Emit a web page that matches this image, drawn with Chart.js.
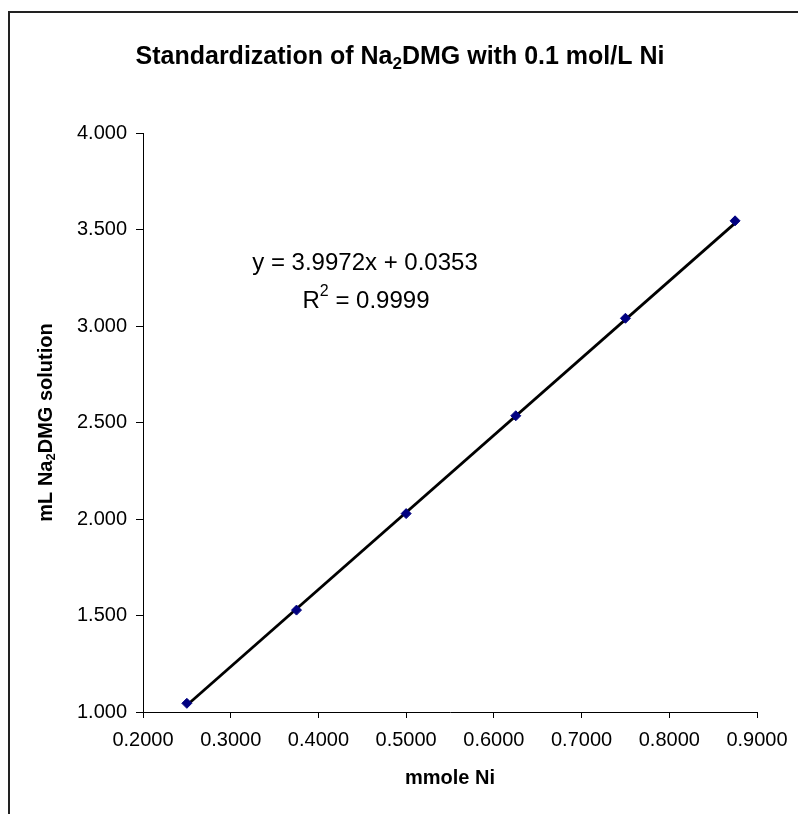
<!DOCTYPE html>
<html>
<head>
<meta charset="utf-8">
<script src="https://cdn.jsdelivr.net/npm/chart.js@4/dist/chart.umd.min.js"></script>
<style>
html,body{margin:0;padding:0;background:#fff;}
#wrap{width:798px;height:814px;position:relative;}
</style>
</head>
<body>
<div id="wrap"><canvas id="c" width="798" height="814"></canvas></div>
<script>
// Data
const mmoleNi = [0.25, 0.375, 0.5, 0.625, 0.75, 0.875];
const mLSolution = [1.045, 1.528, 2.028, 2.535, 3.040, 3.545];
// Trendline endpoints (Excel linear fit shown on chart)
const trendX = [0.25, 0.875];
const trendY = [1.0346, 3.5329];
const xTicks = [0.2, 0.3, 0.4, 0.5, 0.6, 0.7, 0.8, 0.9];
const yTicks = [1.0, 1.5, 2.0, 2.5, 3.0, 3.5, 4.0];
const titleParts = ["Standardization of Na", "2", "DMG with 0.1 mol/L Ni"];
const yTitleParts = ["mL Na", "2", "DMG solution"];
const xTitle = "mmole Ni";
const eqLine1 = "y = 3.9972x + 0.0353";
const eqLine2 = ["R", "2", " = 0.9999"];

const FONT = "'Liberation Sans', Arial, sans-serif";

function drawParts(ctx, parts, cx, cy, size, bold, mode) {
  const w = bold ? 'bold ' : '';
  const big = w + size + 'px ' + FONT;
  const small = w + Math.round(size * 0.66) + 'px ' + FONT;
  let total = 0;
  const widths = parts.map((p, i) => {
    ctx.font = (i % 2 === 1) ? small : big;
    const m = ctx.measureText(p).width;
    total += m;
    return m;
  });
  let x = cx - total / 2;
  ctx.textBaseline = 'middle';
  ctx.textAlign = 'left';
  parts.forEach((p, i) => {
    const isScript = i % 2 === 1;
    ctx.font = isScript ? small : big;
    let dy = 0;
    if (isScript) dy = (mode === 'sup') ? -size * 0.38 : size * 0.28;
    ctx.fillText(p, x, cy + dy);
    x += widths[i];
  });
}

const decor = {
  id: 'decor',
  afterDraw(chart) {
    const ctx = chart.ctx;
    const a = chart.chartArea;
    ctx.save();
    // outer chart border (cropped on right & bottom)
    ctx.strokeStyle = '#222';
    ctx.lineWidth = 2;
    ctx.strokeRect(9, 12, 800, 820);
    ctx.fillStyle = '#000';
    // title
    drawParts(ctx, titleParts, 400, 57, 25, true, 'sub');
    // y axis title (rotated)
    ctx.save();
    ctx.translate(46, (a.top + a.bottom) / 2);
    ctx.rotate(-Math.PI / 2);
    drawParts(ctx, yTitleParts, 0, 0, 20, true, 'sub');
    ctx.restore();
    // x axis title
    ctx.font = 'bold 20px ' + FONT;
    ctx.textAlign = 'center';
    ctx.textBaseline = 'middle';
    ctx.fillText(xTitle, (a.left + a.right) / 2, 778);
    // equation
    ctx.font = '24px ' + FONT;
    ctx.fillText(eqLine1, 365, 263);
    drawParts(ctx, eqLine2, 366, 301, 24, false, 'sup');
    ctx.restore();
  }
};

new Chart(document.getElementById('c'), {
  type: 'scatter',
  data: {
    datasets: [
      {
        label: 'trend',
        type: 'line',
        data: trendX.map((x, i) => ({x, y: trendY[i]})),
        borderColor: '#000',
        borderWidth: 2.8,
        pointRadius: 0,
        fill: false,
        order: 2
      },
      {
        label: 'data',
        data: mmoleNi.map((x, i) => ({x, y: mLSolution[i]})),
        pointStyle: 'rectRot',
        pointRadius: 5,
        backgroundColor: '#000080',
        borderColor: '#000080',
        borderWidth: 1,
        order: 1
      }
    ]
  },
  options: {
    responsive: false,
    animation: false,
    devicePixelRatio: 1,
    layout: { padding: { top: 133, left: 0, right: 41, bottom: 0 } },
    plugins: { legend: { display: false }, tooltip: { enabled: false }, title: { display: false } },
    scales: {
      x: {
        type: 'linear',
        min: 0.2, max: 0.9,
        afterBuildTicks(s) { s.ticks = xTicks.map(v => ({value: v})); },
        afterFit(s) { s.height = 814 - 712; },
        grid: { display: true, drawOnChartArea: false, drawTicks: true, tickLength: 6, color: '#000' },
        border: { color: '#000', width: 1 },
        ticks: { color: '#000', font: { family: FONT, size: 20 }, padding: 10, maxRotation: 0,
                 callback: v => Number(v).toFixed(4) }
      },
      y: {
        type: 'linear',
        min: 1.0, max: 4.0,
        afterBuildTicks(s) { s.ticks = yTicks.map(v => ({value: v})); },
        afterFit(s) { s.width = 143; },
        grid: { display: true, drawOnChartArea: false, drawTicks: true, tickLength: 7, color: '#000' },
        border: { color: '#000', width: 1 },
        ticks: { color: '#000', font: { family: FONT, size: 20 }, padding: 9,
                 callback: v => Number(v).toFixed(3) }
      }
    }
  },
  plugins: [decor]
});
</script>
</body>
</html>
